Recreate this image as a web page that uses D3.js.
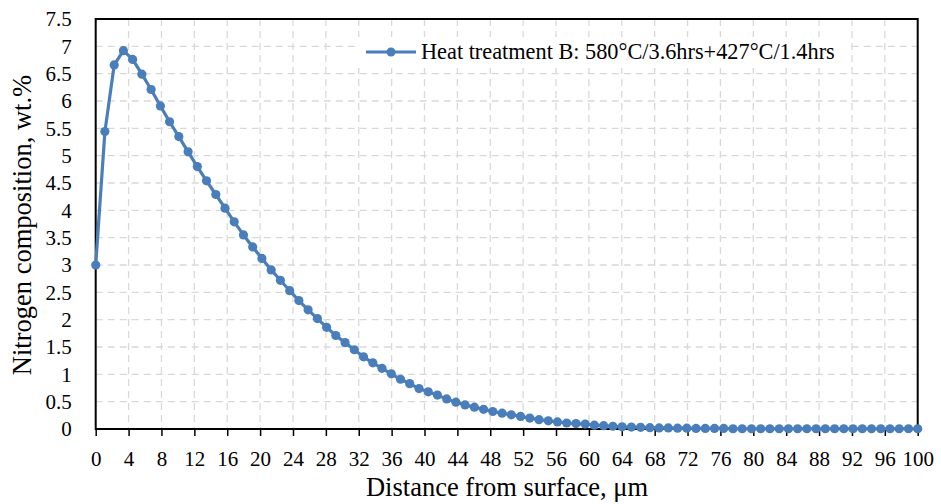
<!DOCTYPE html>
<html>
<head>
<meta charset="utf-8">
<script src="https://cdn.jsdelivr.net/npm/d3@7"></script>
<style>
  html, body { margin: 0; padding: 0; background: #ffffff; }
  svg { display: block; font-family: "Liberation Serif", "Times New Roman", serif; }
</style>
</head>
<body>
<svg id="chart" width="941" height="504"></svg>
<script>
// ---- data ----
const distance = [0, 1.12, 2.25, 3.37, 4.49, 5.62, 6.74, 7.87, 8.99, 10.11,
  11.24, 12.36, 13.48, 14.61, 15.73, 16.85, 17.98, 19.10, 20.22, 21.35,
  22.47, 23.60, 24.72, 25.84, 26.97, 28.09, 29.21, 30.34, 31.46, 32.58,
  33.71, 34.83, 35.96, 37.08, 38.20, 39.33, 40.45, 41.57, 42.70, 43.82,
  44.94, 46.07, 47.19, 48.31, 49.44, 50.56, 51.69, 52.81, 53.93, 55.06,
  56.18, 57.30, 58.43, 59.55, 60.67, 61.80, 62.92, 64.04, 65.17, 66.29,
  67.42, 68.54, 69.66, 70.79, 71.91, 73.03, 74.16, 75.28, 76.40, 77.53,
  78.65, 79.78, 80.90, 82.02, 83.15, 84.27, 85.39, 86.52, 87.64, 88.76,
  89.89, 91.01, 92.13, 93.26, 94.38, 95.51, 96.63, 97.75, 98.88, 100];
const nitrogen = [3.00, 5.44, 6.66, 6.92, 6.76, 6.49, 6.21, 5.91, 5.62, 5.35,
  5.07, 4.80, 4.54, 4.29, 4.04, 3.79, 3.55, 3.33, 3.12, 2.91,
  2.72, 2.53, 2.35, 2.18, 2.02, 1.86, 1.71, 1.58, 1.45, 1.32,
  1.21, 1.11, 1.01, 0.91, 0.83, 0.74, 0.68, 0.62, 0.55, 0.49,
  0.44, 0.40, 0.36, 0.32, 0.29, 0.26, 0.23, 0.20, 0.17, 0.15,
  0.13, 0.11, 0.10, 0.09, 0.07, 0.06, 0.05, 0.04, 0.035, 0.03,
  0.025, 0.02, 0.02, 0.015, 0.015, 0.01, 0.01, 0.01, 0.01, 0.005,
  0.005, 0.005, 0.005, 0.005, 0.005, 0.005, 0.005, 0.005, 0.005, 0.005,
  0.005, 0.005, 0.005, 0.005, 0.005, 0.005, 0.005, 0.005, 0.005, 0.005];
const xTicks = [0, 4, 8, 12, 16, 20, 24, 28, 32, 36, 40, 44, 48, 52, 56, 60, 64, 68, 72, 76, 80, 84, 88, 92, 96, 100];
const yTicks = [0, 0.5, 1, 1.5, 2, 2.5, 3, 3.5, 4, 4.5, 5, 5.5, 6, 6.5, 7, 7.5];
const seriesName = "Heat treatment B: 580°C/3.6hrs+427°C/1.4hrs";
const xTitle = "Distance from surface, μm";
const yTitle = "Nitrogen composition, wt.%";

// ---- layout ----
const W = 941, H = 504;
const m = { left: 95.7, right: 23.3, top: 19, bottom: 75 };
const iw = W - m.left - m.right, ih = H - m.top - m.bottom;
const color = "#4a7ebb";

const svg = d3.select("#chart");
const g = svg.append("g").attr("transform", `translate(${m.left},${m.top})`);

const x = d3.scaleLinear().domain([0, 100]).range([0, iw]);
const y = d3.scaleLinear().domain([0, 7.5]).range([ih, 0]);

// grid
g.append("g").selectAll("line").data(yTicks.filter(v => v > 0 && v < 7.5)).join("line")
  .attr("x1", 0).attr("x2", iw)
  .attr("y1", d => y(d)).attr("y2", d => y(d))
  .attr("stroke", "#d9d9d9").attr("stroke-width", 1.3).attr("stroke-dasharray", "7,5");
g.append("g").selectAll("line").data(xTicks.filter(v => v > 0 && v < 100)).join("line")
  .attr("y1", 0).attr("y2", ih)
  .attr("x1", d => x(d)).attr("x2", d => x(d))
  .attr("stroke", "#d9d9d9").attr("stroke-width", 1.3).attr("stroke-dasharray", "7,5");

// axes
const xAxis = g.append("g").attr("transform", `translate(0,${ih})`)
  .call(d3.axisBottom(x).tickValues(xTicks).tickSize(7).tickPadding(15).tickFormat(d3.format("d")));
xAxis.select(".domain").remove();
xAxis.selectAll(".tick line").attr("stroke", "#000").attr("stroke-width", 1.5);
xAxis.selectAll("text").attr("font-size", 21).attr("fill", "#000")
  .attr("font-family", "'Liberation Serif', 'Times New Roman', serif");

const yAxis = g.append("g")
  .call(d3.axisLeft(y).tickValues(yTicks).tickSize(0).tickPadding(24).tickFormat(d => String(d)));
yAxis.select(".domain").remove();
yAxis.selectAll("text").attr("font-size", 21).attr("fill", "#000")
  .attr("font-family", "'Liberation Serif', 'Times New Roman', serif");

// border
g.append("rect").attr("x", 0).attr("y", 0).attr("width", iw).attr("height", ih)
  .attr("fill", "none").attr("stroke", "#000").attr("stroke-width", 2);

// legend
const lg = svg.append("g");
lg.append("rect").attr("x", 358).attr("y", 37).attr("width", 490).attr("height", 31).attr("fill", "#fff");
lg.append("line").attr("x1", 366).attr("x2", 416).attr("y1", 52).attr("y2", 52)
  .attr("stroke", color).attr("stroke-width", 3);
lg.append("circle").attr("cx", 391).attr("cy", 52).attr("r", 4.5).attr("fill", color);
lg.append("text").attr("x", 421).attr("y", 59).attr("font-size", 22.3).attr("fill", "#000").text(seriesName);

// series
const pts = distance.map((d, i) => [d, nitrogen[i]]);
g.append("path").datum(pts)
  .attr("fill", "none").attr("stroke", color).attr("stroke-width", 3.2).attr("stroke-linejoin", "round")
  .attr("d", d3.line().x(d => x(d[0])).y(d => y(d[1])));
g.append("g").selectAll("circle").data(pts).join("circle")
  .attr("cx", d => x(d[0])).attr("cy", d => y(d[1])).attr("r", 4.6).attr("fill", color);

// titles
svg.append("text").attr("x", 507).attr("y", 496).attr("text-anchor", "middle")
  .attr("font-size", 26.5).attr("fill", "#000").text(xTitle);
svg.append("text").attr("transform", `translate(31,225) rotate(-90)`)
  .attr("text-anchor", "middle").attr("font-size", 26.5).attr("fill", "#000").text(yTitle);
</script>
</body>
</html>
